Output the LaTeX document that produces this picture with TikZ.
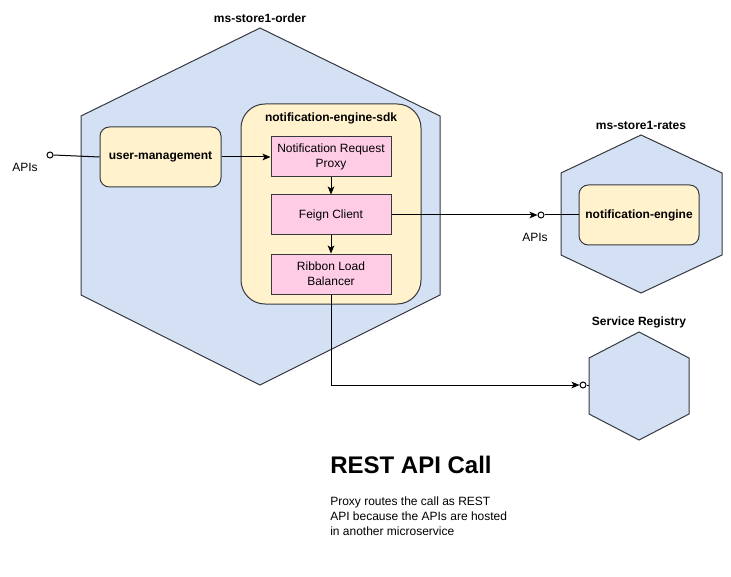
\documentclass[tikz,border=0pt]{standalone}
\usepackage{fontspec}
\setmainfont{Liberation Sans}
\usetikzlibrary{arrows.meta}
\definecolor{hexblue}{HTML}{D4E1F5}
\definecolor{boxyellow}{HTML}{FFF2CC}
\definecolor{boxpink}{HTML}{FFCCE6}
\definecolor{edge}{HTML}{36393D}
\begin{document}
\begin{tikzpicture}[x=0.75pt,y=-0.75pt,
  hexa/.style={fill=hexblue,draw=edge,line width=0.75pt},
  ybox/.style={rectangle,rounded corners=7pt,fill=boxyellow,draw=edge,line width=0.75pt,
    font=\fontsize{9}{11}\selectfont\bfseries,align=center,inner sep=0pt},
  pbox/.style={rectangle,fill=boxpink,draw=edge,line width=0.75pt,
    minimum width=90pt,minimum height=30pt,inner sep=0pt,
    font=\fontsize{9}{11}\selectfont,align=center},
  title/.style={font=\fontsize{9}{11}\selectfont\bfseries,inner sep=0pt},
  lbl/.style={font=\fontsize{9}{11}\selectfont,inner sep=0pt},
  conn/.style={draw=black,line width=0.75pt,-{Stealth[length=6pt,width=5pt,inset=1.5pt]}},
  wire/.style={draw=black,line width=0.75pt},
  port/.style={circle,draw=black,fill=white,line width=0.75pt,minimum size=4.5pt,inner sep=0pt}]
\useasboundingbox (0,0) rectangle (731,577);

% hexagons
\path[hexa] (260,28) -- (440,116) -- (440,295) -- (260,385) -- (81,295) -- (81,116) -- cycle;
\path[hexa] (641,135) -- (722,173) -- (722,255) -- (641,293) -- (561,255) -- (561,173) -- cycle;
\path[hexa] (639,332) -- (689,358) -- (689,414) -- (639,440) -- (589,414) -- (589,358) -- cycle;
\coordinate (srleft) at (589,385);

\node[title] (t1) at (260,18) {ms-store1-order};
\node[title] (t2) at (641,125) {ms-store1-rates};
\node[title] (t3) at (639,322) {Service Registry};

% sdk container
\node[rectangle,rounded corners=18pt,fill=boxyellow,draw=edge,line width=0.75pt,
  minimum width=135pt,minimum height=150pt,inner sep=0pt] (sdk) at (331,204) {};
\node[title] (sdkt) at (331,118) {notification-engine-sdk};

\node[ybox,minimum width=90.75pt,minimum height=45pt] (um) at (160.5,157) {user-management};
\node[ybox,minimum width=90pt,minimum height=45pt] (ne) at (639,215) {notification-engine};

\node[pbox] (nrp) at (331,157) {Notification Request\\Proxy};
\node[pbox] (fc) at (331,215) {Feign Client};
\node[pbox] (rlb) at (331,274) {Ribbon Load\\Balancer};

% ports
\node[port] (p1) at (50,155) {};
\node[port] (p2) at (541,215) {};
\node[port] (p3) at (583,385) {};
\node[lbl] (a1) at (25,167) {APIs};
\node[lbl] (a2) at (535,237) {APIs};

% connectors
\draw[wire] (p1.east) -- (um.west);
\draw[conn] (um.east) -- (nrp.west);
\draw[conn] (nrp.south) -- (fc.north);
\draw[conn] (fc.south) -- (rlb.north);
\draw[conn] (fc.east) -- (p2.west);
\draw[wire] (p2.east) -- (ne.west);
\draw[conn] (rlb.south) |- (p3.west);
\draw[wire] (p3.east) -- (srleft);

% texts
\node[anchor=base west,inner sep=0pt,font=\fontsize{18}{20}\selectfont\bfseries] (head) at (330,473) {REST API Call};
\node[anchor=north west,inner sep=0pt,align=left,font=\fontsize{9}{10.9}\selectfont] (body) at (330,497)
  {Proxy routes the call as REST\\API because the APIs are hosted\\in another microservice};
\end{tikzpicture}
\end{document}
